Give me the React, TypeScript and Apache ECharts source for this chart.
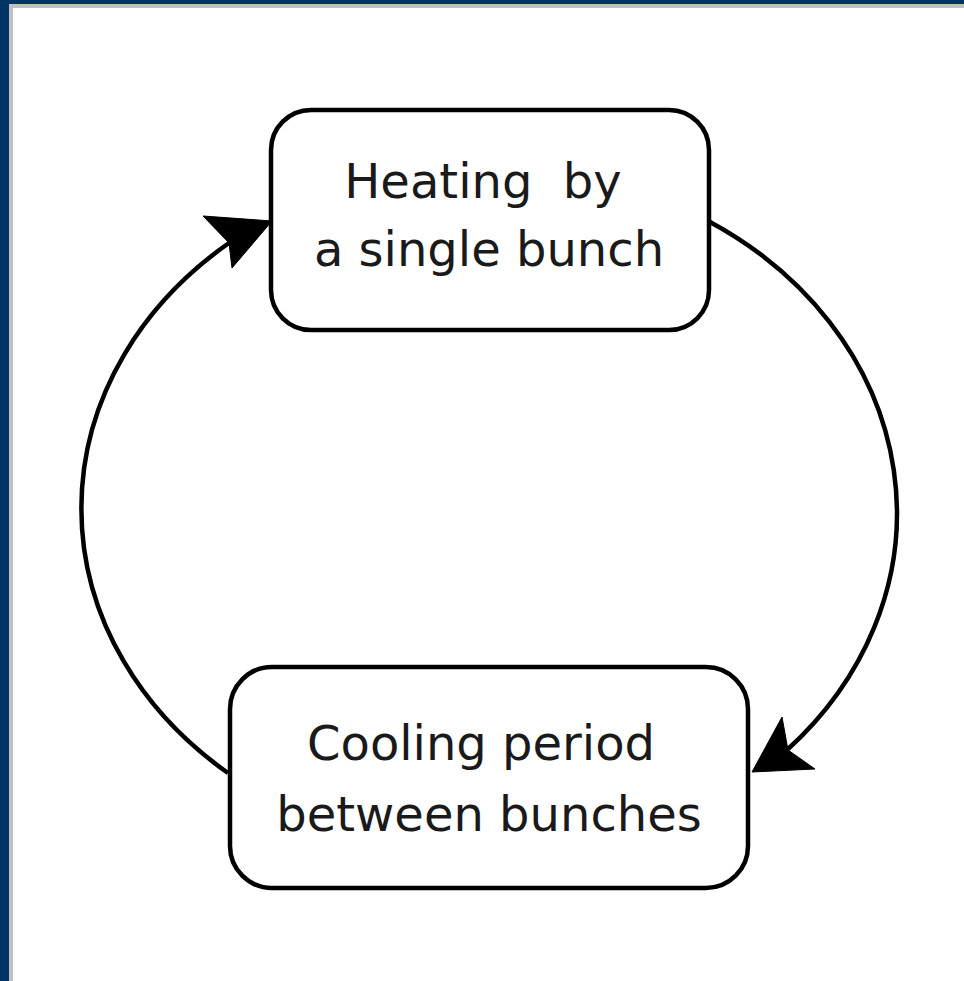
import React, { useEffect, useRef } from "react";
import * as echarts from "echarts";

// Diagram content
const topBoxLines = ["Heating  by", "a single bunch"];
const bottomBoxLines = ["Cooling period", "between bunches"];

const W = 964;
const H = 981;

// curved connectors (elliptical arcs)
const leftArcD = "M 228 773 A 406 344 0 0 1 229 243";
const rightArcD = "M 710 222 A 400 344 0 0 1 787 750";

echarts.graphic.registerShape("leftArc", echarts.graphic.extendPath(leftArcD, {}) as any);
echarts.graphic.registerShape("rightArc", echarts.graphic.extendPath(rightArcD, {}) as any);

export default function App() {
  const ref = useRef<HTMLDivElement>(null);
  useEffect(() => {
    document.body.style.margin = "0";
    const chart = echarts.init(ref.current!, null, { renderer: "svg", width: W, height: H });
    const font = '"DejaVu Sans", Verdana, sans-serif';
    const textColor = "#1a1a1a";
    const textEl = (s: string, x: number, y: number) => ({
      type: "text",
      x,
      y,
      style: {
        text: s,
        fill: textColor,
        font: `48px ${font}`,
        textAlign: "center",
        textVerticalAlign: "middle",
      },
    });
    chart.setOption({
      animation: false,
      backgroundColor: "#ffffff",
      graphic: [
        { type: "rect", shape: { x: 0, y: 0, width: W, height: 4 }, style: { fill: "#003366" } },
        { type: "rect", shape: { x: 9, y: 4, width: W - 9, height: 4 }, style: { fill: "#c0c0c0" } },
        { type: "rect", shape: { x: 0, y: 0, width: 9, height: H }, style: { fill: "#003366" } },
        { type: "rect", shape: { x: 9, y: 4, width: 4, height: H - 4 }, style: { fill: "#c0c0c0" } },
        {
          type: "leftArc",
          style: { fill: "none", stroke: "#000", lineWidth: 4.5 },
        },
        {
          type: "rightArc",
          style: { fill: "none", stroke: "#000", lineWidth: 4.5 },
        },
        {
          type: "polygon",
          shape: { points: [[272, 221], [203, 216], [229, 243], [232, 268]] },
          style: { fill: "#000", stroke: "#000", lineWidth: 1 },
        },
        {
          type: "polygon",
          shape: { points: [[752, 772], [782, 717], [788, 750], [815, 769]] },
          style: { fill: "#000", stroke: "#000", lineWidth: 1 },
        },
        {
          type: "rect",
          shape: { x: 271, y: 110, width: 438, height: 220, r: 40 },
          style: { fill: "#fff", stroke: "#000", lineWidth: 4.5 },
        },
        {
          type: "rect",
          shape: { x: 230, y: 667, width: 518, height: 221, r: 42 },
          style: { fill: "#fff", stroke: "#000", lineWidth: 4.5 },
        },
        textEl(topBoxLines[0], 483, 181),
        textEl(topBoxLines[1], 489, 249),
        textEl(bottomBoxLines[0], 481, 743),
        textEl(bottomBoxLines[1], 489, 814),
      ],
    });
    return () => chart.dispose();
  }, []);
  return <div ref={ref} style={{ position: "absolute", left: 0, top: 0, width: W, height: H }} />;
}
